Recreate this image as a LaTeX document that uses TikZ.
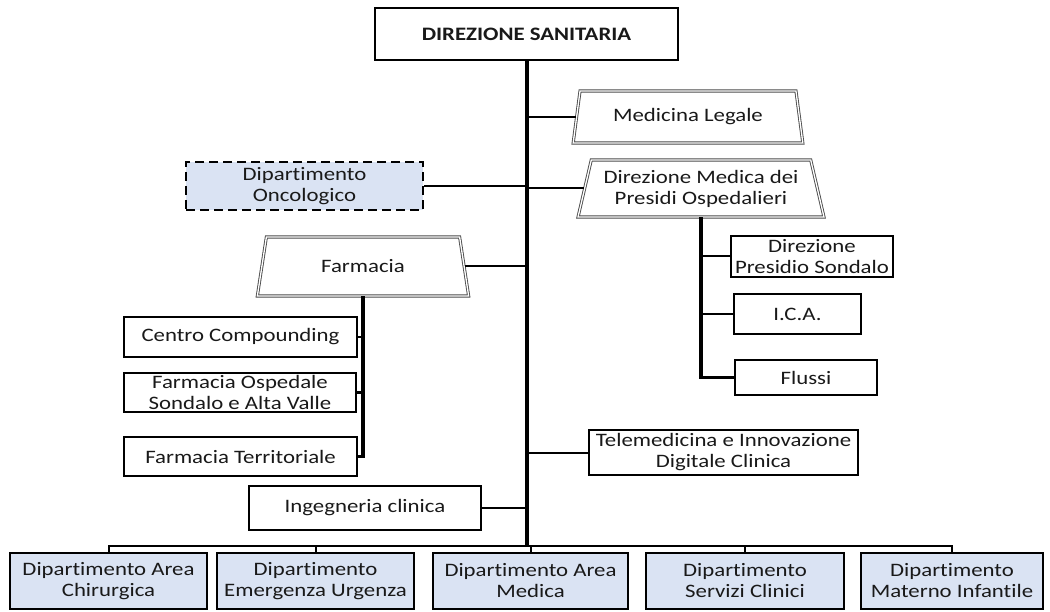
\documentclass[tikz,border=0pt]{standalone}
\usepackage{fontspec}
\setmainfont{Carlito}[FakeStretch=1.2, Ligatures=NoCommon]
\usetikzlibrary{shapes.geometric}
\definecolor{boxblue}{HTML}{DAE3F3}
\begin{document}
\begin{tikzpicture}[x=1pt,y=-1pt,
  every node/.style={font=\fontsize{19}{21}\selectfont, align=center, inner sep=0pt, text=black!90},
  plain/.style={draw, line width=1.3pt, rectangle},
  head/.style={draw, line width=2.6pt, rectangle, font=\fontsize{19}{21}\selectfont\bfseries},
  dept/.style={draw, line width=2.6pt, rectangle, fill=boxblue},
  dashbox/.style={draw, line width=2.4pt, rectangle, fill=boxblue, dash pattern=on 9pt off 5pt},
  trap/.style={trapezium, trapezium stretches=true, draw=black!70, double=white, double distance=1.3pt, line width=0.9pt, trapezium angle=#1},
  link/.style={line width=2pt},
  trunk/.style={line width=3.6pt}]
\useasboundingbox (0,0) rectangle (1050,612);

% top
\node[head, minimum width=303, minimum height=52] (ds) at (526.5,34) {DIREZIONE SANITARIA};

% right side
\node[trap=73.9, minimum width=230, minimum height=52] (ml) at (688,117) {Medicina Legale};
\node[trap=72.5, minimum width=246, minimum height=57] (dm) at (701,188.5) {Direzione Medica dei\\Presidi Ospedalieri};
\node[plain, minimum width=162, minimum height=41] (dps) at (812,256.5) {Direzione\\Presidio Sondalo};
\node[plain, minimum width=127, minimum height=40] (ica) at (797.5,314) {I.C.A.};
\node[plain, minimum width=142, minimum height=35] (flu) at (806,377.5) {Flussi};
\node[plain, minimum width=269, minimum height=45] (tele) at (723.5,452.5) {Telemedicina e Innovazione\\Digitale Clinica};

% left side
\node[dashbox, minimum width=237, minimum height=48] (onc) at (304.5,186) {Dipartimento\\Oncologico};
\node[trap=73.5, minimum width=212, minimum height=59] (far) at (363,266.5) {Farmacia};
\node[plain, minimum width=233, minimum height=40] (cc) at (240.5,337) {Centro Compounding};
\node[plain, minimum width=232, minimum height=39] (fos) at (240,392.5) {Farmacia Ospedale\\Sondalo e Alta Valle};
\node[plain, minimum width=233, minimum height=39] (ft) at (240.5,456.5) {Farmacia Territoriale};
\node[plain, minimum width=232, minimum height=44] (ing) at (365,508) {Ingegneria clinica};

% bottom departments
\node[dept, minimum width=197, minimum height=56] (b1) at (108.5,581) {Dipartimento Area\\Chirurgica};
\node[dept, minimum width=197, minimum height=56] (b2) at (315.5,581) {Dipartimento\\Emergenza Urgenza};
\node[dept, minimum width=195, minimum height=56] (b3) at (530.5,581) {Dipartimento Area\\Medica};
\node[dept, minimum width=198, minimum height=56] (b4) at (745,581) {Dipartimento\\Servizi Clinici};
\node[dept, minimum width=182, minimum height=56] (b5) at (952,581) {Dipartimento\\Materno Infantile};

\coordinate (bus) at (527,546);

% connectors
\draw[trunk] (ds.south -| bus) -- (bus);
\draw[link] (ml.west) -- (ml.west -| bus);
\draw[link] (onc.east) -- (onc.east -| bus);
\draw[link] (dm.west) -- (dm.west -| bus);
\draw[link] (far.east) -- (far.east -| bus);
\draw[link] (tele.west) -- (tele.west -| bus);
\draw[link] (ing.east) -- (ing.east -| bus);

\draw[trunk] (dm.south) -- (dm.south |- flu.west) -- (flu.west);
\draw[link] (dps.west) -- (dps.west -| dm.south);
\draw[link] (ica.west) -- (ica.west -| dm.south);

\draw[trunk] (far.south) -- (far.south |- ft.east) -- (ft.east);
\draw[link] (cc.east) -- (cc.east -| far.south);
\draw[link] (fos.east) -- (fos.east -| far.south);

\draw[link] (b1.north) -- (b1.north |- bus) -| (b5.north);
\draw[link] (b2.north) -- (b2.north |- bus);
\draw[link] (b3.north) -- (b3.north |- bus);
\draw[link] (b4.north) -- (b4.north |- bus);
\end{tikzpicture}
\end{document}
